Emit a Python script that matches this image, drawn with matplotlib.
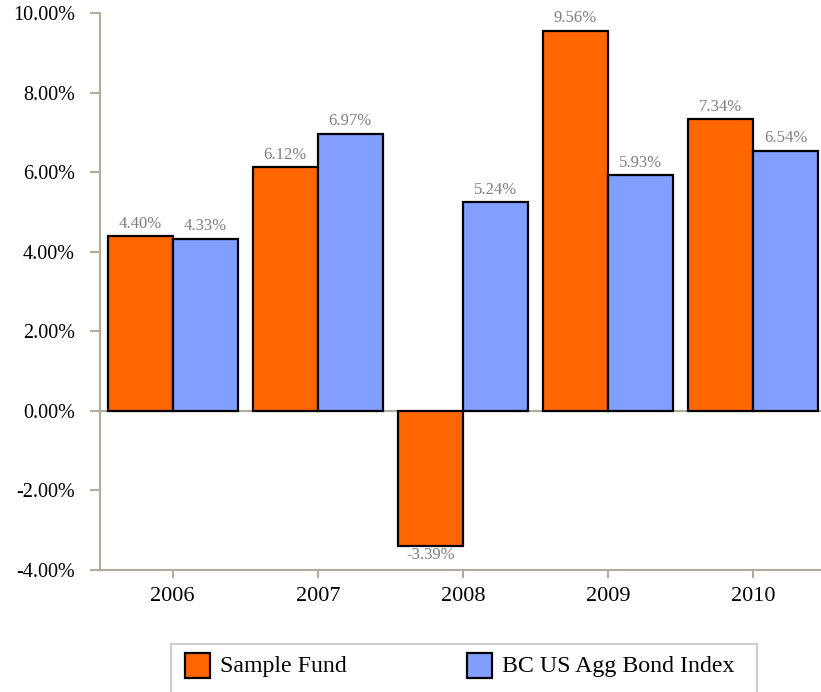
import matplotlib
matplotlib.use("Agg")
import matplotlib.pyplot as plt
from matplotlib.patches import Rectangle
import numpy as np

years = ["2006", "2007", "2008", "2009", "2010"]
series_names = ["Sample Fund", "BC US Agg Bond Index"]
fund = [4.40, 6.12, -3.39, 9.56, 7.34]
index = [4.33, 6.97, 5.24, 5.93, 6.54]
yticks = [-4, -2, 0, 2, 4, 6, 8, 10]

plt.rcParams['font.family'] = ['Liberation Serif', 'DejaVu Serif']

W, H = 821, 692
fig = plt.figure(figsize=(W / 100, H / 100), dpi=100)
ax = fig.add_axes([100 / W, 1 - 570 / H, 721 / W, (570 - 13) / H])

axis_col = "#b0ab9b"
orange = "#ff6600"
blue = "#819ffe"
lbl_col = "#7f7f7f"

x = np.arange(len(years))
bw = 0.448
b1 = ax.bar(x - bw / 2, fund, bw, color=orange, edgecolor="black", linewidth=1.6, zorder=3)
b2 = ax.bar(x + bw / 2, index, bw, color=blue, edgecolor="black", linewidth=1.6, zorder=3)

ax.axhline(0, color=axis_col, lw=1.5, zorder=1)

for bars, vals in ((b1, fund), (b2, index)):
    for r, v in zip(bars, vals):
        cx = r.get_x() + r.get_width() / 2
        if v >= 0:
            ax.annotate(f"{v:.2f}%", (cx, v), xytext=(0, 3), textcoords="offset points",
                        ha="center", va="bottom", color=lbl_col, fontsize=12)
        else:
            ax.annotate(f"{v:.2f}%", (cx, v), xytext=(0, -1), textcoords="offset points",
                        ha="center", va="top", color=lbl_col, fontsize=12)

ax.set_xlim(-0.5, 4 + (821 - 753.3) / 145.2)
ax.set_ylim(-4, 10)
ax.set_xticks(x)
ax.set_xticklabels(years)
ax.set_yticks(yticks)
ax.set_yticklabels([f"{t:.2f}%" for t in yticks])

for s in ("top", "right"):
    ax.spines[s].set_visible(False)
for s in ("left", "bottom"):
    ax.spines[s].set_color(axis_col)
    ax.spines[s].set_linewidth(1.5)
ax.tick_params(axis="y", length=7, width=1.5, color=axis_col, pad=11, labelsize=14.5, labelcolor="black")
ax.tick_params(axis="x", length=6, width=1.5, color=axis_col, pad=6, labelsize=16, labelcolor="black")

# legend drawn in pixel coordinates
def px(xp, yp):
    return (xp / W, 1 - yp / H)

frame = Rectangle(px(171, 700), (757 - 171) / W, (700 - 644) / H, transform=fig.transFigure,
                  facecolor="white", edgecolor="#cccccc", linewidth=1.5, clip_on=False)
fig.add_artist(frame)
entries = [(185, orange, 220), (467, blue, 502)]
for (px0, col, tx), name in zip(entries, series_names):
    fig.add_artist(Rectangle(px(px0, 678), 25 / W, 25 / H, transform=fig.transFigure,
                             facecolor=col, edgecolor="black", linewidth=1.6))
    fig.text(tx / W, 1 - 672 / H, name, ha="left", va="baseline", fontsize=17.2, color="black")

fig.savefig("out.png", dpi=100)
